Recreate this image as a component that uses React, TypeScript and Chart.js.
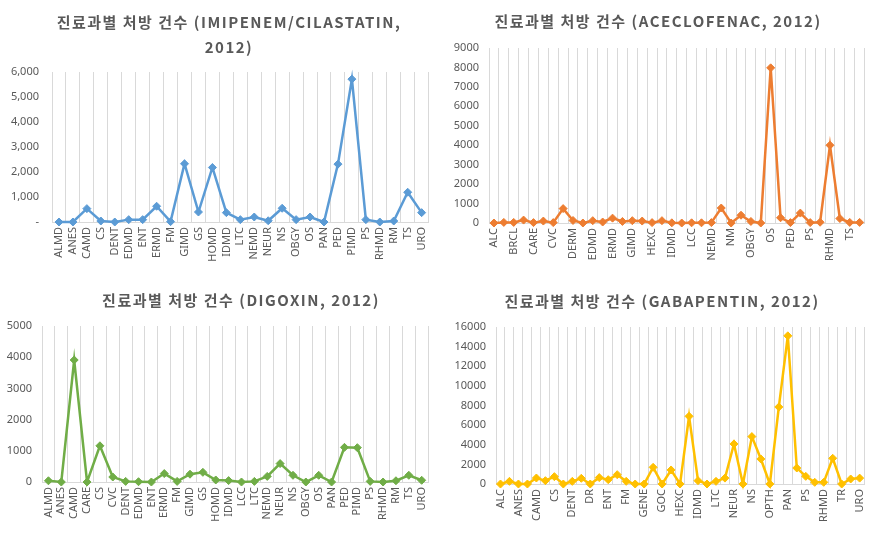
import React, { useEffect, useRef } from 'react';
import { Chart, registerables } from 'chart.js';

Chart.register(...registerables);

const FONT = '"Noto Sans", "Noto Sans CJK KR", sans-serif';
const TITLE_FONT = '"Noto Sans CJK KR", "Noto Sans", sans-serif';
const GRAY = '#595959';
const GRID = '#d9d9d9';

// Panel 1: IMIPENEM/CILASTATIN
const imiLabels = ['ALMD', 'ANES', 'CAMD', 'CS', 'DENT', 'EDMD', 'ENT', 'ERMD', 'FM', 'GIMD', 'GS', 'HOMD', 'IDMD', 'LTC', 'NEMD', 'NEUR', 'NS', 'OBGY', 'OS', 'PAN', 'PED', 'PIMD', 'PS', 'RHMD', 'RM', 'TS', 'URO'];
const imiValues = [0, 0, 535, 40, 0, 95, 95, 630, 15, 2330, 400, 2180, 375, 95, 200, 50, 550, 95, 200, 0, 2315, 5715, 95, 0, 40, 1190, 375];

// Panel 2: ACECLOFENAC
const aceLabels = ['ALC', 'ALMD', 'BRCL', 'CAMD', 'CARE', 'CS', 'CVC', 'DENT', 'DERM', 'DR', 'EDMD', 'ENT', 'ERMD', 'FM', 'GIMD', 'GS', 'HEXC', 'HOMD', 'IDMD', 'INMD', 'LCC', 'LTC', 'NEMD', 'NEUR', 'NM', 'NS', 'OBGY', 'OPTH', 'OS', 'PAN', 'PED', 'PIMD', 'PS', 'PSY', 'RHMD', 'RM', 'TS', 'URO'];
const aceValues = [0, 30, 30, 150, 20, 100, 20, 740, 130, 0, 120, 50, 250, 80, 120, 100, 20, 120, 10, 0, 10, 10, 20, 770, 0, 400, 80, 0, 7980, 270, 20, 510, 20, 40, 4000, 230, 30, 30];

// Panel 3: DIGOXIN
const digLabels = ['ALMD', 'ANES', 'CAMD', 'CARE', 'CS', 'CVC', 'DENT', 'EDMD', 'ENT', 'ERMD', 'FM', 'GIMD', 'GS', 'HOMD', 'IDMD', 'LCC', 'LTC', 'NEMD', 'NEUR', 'NS', 'OBGY', 'OS', 'PAN', 'PED', 'PIMD', 'PS', 'RHMD', 'RM', 'TS', 'URO'];
const digValues = [40, 0, 3910, 0, 1160, 160, 20, 10, 0, 270, 20, 250, 310, 65, 45, 0, 20, 180, 590, 215, 0, 215, 0, 1110, 1100, 20, 0, 40, 215, 55];

// Panel 4: GABAPENTIN
const gabLabels = ['ALC', 'ALMD', 'ANES', 'BRCL', 'CAMD', 'CARE', 'CS', 'CVC', 'DENT', 'DERM', 'DR', 'EDMD', 'ENT', 'ERMD', 'FM', 'GEMD', 'GENE', 'GIMD', 'GOC', 'GS', 'HEXC', 'HOMD', 'IDMD', 'LCC', 'LTC', 'NEMD', 'NEUR', 'NM', 'NS', 'OBGY', 'OPTH', 'OS', 'PAN', 'PED', 'PS', 'PSY', 'RHMD', 'RM', 'TR', 'TS', 'URO'];
const gabValues = [0, 270, 0, 0, 610, 340, 750, 0, 270, 580, 0, 650, 440, 950, 270, 0, 0, 1700, 0, 1430, 0, 6900, 340, 0, 270, 600, 4080, 0, 4830, 2550, 0, 7850, 15100, 1630, 780, 170, 170, 2620, 0, 510, 600];

const imiTitle = ['진료과별 처방 건수 (IMIPENEM/CILASTATIN,', '2012)'];
const aceTitle = ['진료과별 처방 건수 (ACECLOFENAC, 2012)'];
const digTitle = ['진료과별 처방 건수 (DIGOXIN, 2012)'];
const gabTitle = ['진료과별 처방 건수 (GABAPENTIN, 2012)'];

type PanelSpec = {
  left: number; top: number; w: number; h: number;
  labels: string[]; values: number[]; color: string;
  max: number; step: number; comma: boolean; skip: boolean;
  areaTop: number; yw: number; padRight: number; xh: number; ypad: number;
  title: string[]; tx: number; ty: number; tgap: number;
};

const panels: PanelSpec[] = [
  { left: 0, top: 0, w: 440, h: 268, labels: imiLabels, values: imiValues, color: '#5B9BD5', max: 6000, step: 1000, comma: true, skip: false,
    areaTop: 72, yw: 52, padRight: 8, xh: 46, ypad: 13, title: imiTitle, tx: 229, ty: 22, tgap: 25.5 },
  { left: 440, top: 0, w: 438, h: 268, labels: aceLabels, values: aceValues, color: '#ED7D31', max: 9000, step: 1000, comma: false, skip: true,
    areaTop: 48, yw: 49, padRight: 13, xh: 45, ypad: 10, title: aceTitle, tx: 218, ty: 21.5, tgap: 0 },
  { left: 0, top: 268, w: 440, h: 265, labels: digLabels, values: digValues, color: '#70AD47', max: 5000, step: 1000, comma: false, skip: false,
    areaTop: 58, yw: 42, padRight: 7, xh: 51, ypad: 10, title: digTitle, tx: 241, ty: 32.5, tgap: 0 },
  { left: 440, top: 268, w: 438, h: 265, labels: gabLabels, values: gabValues, color: '#FFC000', max: 16000, step: 2000, comma: false, skip: true,
    areaTop: 59, yw: 56, padRight: 12, xh: 49, ypad: 10, title: gabTitle, tx: 222, ty: 33.5, tgap: 0 },
];

function makeTitlePlugin(p: PanelSpec) {
  return {
    id: 'panelTitle',
    afterDraw(chart: any) {
      const ctx = chart.ctx;
      ctx.save();
      ctx.font = `bold 15px ${TITLE_FONT}`;
      ctx.fillStyle = GRAY;
      ctx.textAlign = 'center';
      ctx.textBaseline = 'middle';
      try { (ctx as any).letterSpacing = '1.5px'; } catch (e) { /* ignore */ }
      p.title.forEach((line, i) => ctx.fillText(line, p.tx, p.ty + i * p.tgap));
      ctx.restore();
    },
  };
}

function Panel({ p }: { p: PanelSpec }) {
  const ref = useRef<HTMLCanvasElement | null>(null);
  useEffect(() => {
    if (!ref.current) return;
    const chart = new Chart(ref.current, {
      type: 'line',
      data: {
        labels: p.labels,
        datasets: [{
          data: p.values,
          borderColor: p.color,
          backgroundColor: p.color,
          borderWidth: 2.5,
          pointStyle: 'rectRot',
          pointRadius: 4,
          pointHoverRadius: 4,
          pointBorderWidth: 1,
          tension: 0,
          clip: false,
        } as any],
      },
      options: {
        animation: false,
        responsive: false,
        maintainAspectRatio: false,
        layout: { padding: { top: p.areaTop, left: 0, right: p.padRight, bottom: 0 } },
        plugins: { legend: { display: false }, title: { display: false }, tooltip: { enabled: false } },
        scales: {
          x: {
            type: 'category',
            offset: true,
            grid: { display: true, offset: true, color: GRID, drawTicks: false, lineWidth: 1 },
            border: { display: true, color: GRID },
            ticks: {
              autoSkip: false,
              maxRotation: 90,
              minRotation: 90,
              padding: 5,
              color: GRAY,
              font: { family: FONT, size: 11 },
              callback: function (this: any, v: any, i: number) {
                return p.skip && i % 2 === 1 ? '' : this.getLabelForValue(v);
              },
            },
            afterFit: (s: any) => { s.height = p.xh; },
          },
          y: {
            min: 0,
            max: p.max,
            grid: { display: false, drawTicks: false },
            border: { display: false },
            ticks: {
              stepSize: p.step,
              padding: p.ypad,
              color: GRAY,
              font: { family: FONT, size: 11 },
              callback: (v: any) => {
                const n = Number(v);
                if (p.comma) return n === 0 ? '-' : n.toLocaleString('en-US');
                return String(n);
              },
            },
            afterFit: (s: any) => { s.width = p.yw; },
          },
        },
      } as any,
      plugins: [makeTitlePlugin(p)],
    });
    return () => chart.destroy();
  }, [p]);
  return (
    <canvas
      ref={ref}
      width={p.w}
      height={p.h}
      style={{ position: 'absolute', left: p.left, top: p.top, width: p.w, height: p.h }}
    />
  );
}

export default function App() {
  return (
    <div style={{ position: 'absolute', left: 0, top: 0, width: 878, height: 533, background: '#ffffff', overflow: 'hidden' }}>
      {panels.map((p, i) => <Panel key={i} p={p} />)}
    </div>
  );
}
